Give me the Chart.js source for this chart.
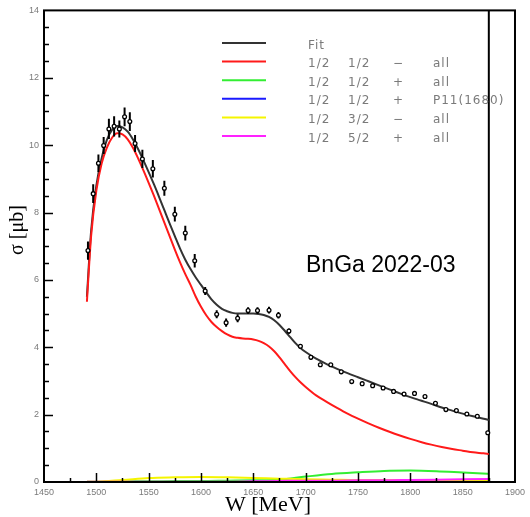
<!DOCTYPE html>
<html>
<head>
<meta charset="utf-8">
<script src="https://cdn.jsdelivr.net/npm/chart.js@4.4.1/dist/chart.umd.min.js"></script>
<style>
html,body{margin:0;padding:0;background:#fff}
#wrap{width:530px;height:517px}
</style>
</head>
<body>
<div id="wrap"><canvas id="chart" width="530" height="517"></canvas></div>
<script>

// curves (fit and 1/2- wave) sampled along W
const curveW=[1491,1495,1500,1505,1510,1515,1520,1525,1530,1535,1540,1545,1550,1555,1560,1565,1570,1575,1580,1585,1590,1595,1600,1605,1610,1615,1620,1625,1630,1635,1640,1645,1650,1655,1660,1665,1670,1675,1680,1685,1690,1695,1700,1710,1720,1730,1740,1750,1760,1770,1780,1790,1800,1810,1820,1830,1840,1850,1860,1870,1875]
const fitY=[5.5,7.45,8.8,9.6,10.15,10.45,10.57,10.53,10.4,10.17,9.88,9.55,9.2,8.84,8.46,8.07,7.68,7.3,6.93,6.6,6.32,6.07,5.85,5.63,5.42,5.26,5.14,5.07,5.02,5.0,5.0,5.0,5.0,4.99,4.96,4.9,4.8,4.66,4.49,4.31,4.13,3.98,3.86,3.66,3.5,3.36,3.23,3.11,2.99,2.87,2.75,2.63,2.52,2.42,2.32,2.21,2.12,2.03,1.95,1.88,1.84]
const redY=[5.35,7.3,8.65,9.45,9.92,10.22,10.35,10.32,10.17,9.92,9.6,9.25,8.88,8.5,8.1,7.7,7.3,6.9,6.52,6.17,5.85,5.5,5.2,4.95,4.75,4.6,4.48,4.38,4.31,4.28,4.26,4.25,4.23,4.19,4.12,4.02,3.88,3.7,3.5,3.3,3.12,2.96,2.82,2.57,2.38,2.2,2.03,1.88,1.74,1.61,1.49,1.38,1.28,1.19,1.11,1.04,0.98,0.93,0.88,0.85,0.83]

// small partial waves
const partW=[1491,1500,1525,1550,1575,1600,1625,1650,1675,1700,1725,1750,1775,1800,1825,1850,1875]
const greenY=[0.01,0.01,0.02,0.02,0.03,0.03,0.04,0.05,0.07,0.16,0.24,0.29,0.33,0.34,0.32,0.28,0.24]
const blueY=[0.0,0.0,0.0,0.0,0.0,0.0,0.0,0.005,0.01,0.01,0.01,0.01,0.01,0.01,0.01,0.01,0.01]
const yellowY=[0.01,0.01,0.06,0.12,0.14,0.15,0.14,0.12,0.1,0.08,0.07,0.06,0.06,0.06,0.06,0.06,0.06]
const magentaY=[0.01,0.01,0.01,0.01,0.01,0.01,0.01,0.02,0.03,0.04,0.04,0.05,0.05,0.06,0.07,0.08,0.09]

// measured points
const dataW=[1492,1497,1502,1507,1512,1517,1522,1527,1532,1537,1544,1554,1565,1575,1585,1594,1604,1615,1624,1635,1645,1654,1665,1674,1684,1695,1705,1714,1724,1734,1744,1754,1764,1774,1784,1794,1804,1814,1824,1834,1844,1854,1864,1874]
const dataY=[6.87,8.56,9.46,9.99,10.48,10.56,10.48,10.84,10.7,10.05,9.59,9.3,8.72,7.95,7.39,6.57,5.67,4.98,4.73,4.86,5.09,5.09,5.1,4.95,4.48,4.03,3.7,3.48,3.48,3.27,2.98,2.92,2.86,2.79,2.69,2.61,2.63,2.54,2.34,2.15,2.12,2.02,1.95,1.46]
const dataErr=[0.27,0.28,0.26,0.25,0.3,0.3,0.25,0.28,0.28,0.25,0.27,0.26,0.22,0.22,0.22,0.2,0.12,0.12,0.12,0.12,0.1,0.1,0.1,0.1,0.08,0.07,0.06,0.05,0.05,0.05,0.05,0.05,0.05,0.05,0.05,0.05,0.05,0.05,0.05,0.05,0.05,0.05,0.05,0.05]

const cutW=1875

const legendRows=[
["Fit","","",""],
["1/2","1/2","\u2212","all"],
["1/2","1/2","+","all"],
["1/2","1/2","+","P11(1680)"],
["1/2","3/2","\u2212","all"],
["1/2","5/2","+","all"]
]
const colors=["#333333","#ff1a1a","#33ee33","#1a1aff","#f5f500","#ff22ff"]

const pts=(xs,ys)=>xs.map((v,i)=>({x:v,y:ys[i]}))

const errPts=[]
dataW.forEach((w,i)=>{
errPts.push({x:w,y:dataY[i]-dataErr[i]},{x:w,y:dataY[i]+dataErr[i]},{x:w,y:null})
})

const curve=(data,color,order)=>({
data:data,borderColor:color,borderWidth:2,pointRadius:0,fill:false,
cubicInterpolationMode:"monotone",order:order
})

const decor={
id:"decor",
afterDraw(chart){
const {ctx,chartArea:a,scales:{x,y}}=chart
const line=(x1,y1,x2,y2)=>{ctx.beginPath();ctx.moveTo(x1,y1);ctx.lineTo(x2,y2);ctx.stroke()}
ctx.save()
ctx.strokeStyle="#000"
ctx.lineWidth=2
ctx.strokeRect(a.left,a.top,a.right-a.left,a.bottom-a.top)

ctx.lineWidth=1.5
for(let v=1475;v<1900;v+=25){
const px=Math.round(x.getPixelForValue(v))+0.5
line(px,a.bottom,px,a.bottom-(v%50===0?9:4))
}
for(let v=0.5;v<14;v+=0.5){
const py=Math.round(y.getPixelForValue(v))+0.5
line(a.left,py,a.left+(v%2===0?9:5),py)
}

// legend
legendRows.forEach((row,i)=>{
const ly=43+i*18.6
ctx.strokeStyle=colors[i]
ctx.lineWidth=2
line(222,ly,266,ly)
ctx.fillStyle="#7a7a7a"
ctx.font="12px 'DejaVu Sans'"
ctx.letterSpacing="1px"
ctx.textBaseline="middle"
ctx.textAlign="left"
const cols=[308,348,393,433]
row.forEach((t,j)=>{if(t)ctx.fillText(t,cols[j],ly+2.5)})
})
ctx.letterSpacing="0px"

ctx.fillStyle="#000"
ctx.font="23px 'Liberation Sans'"
ctx.textBaseline="middle"
ctx.fillText("BnGa 2022-03",306,266)

ctx.font="22px 'Liberation Serif'"
ctx.textAlign="center"
ctx.fillText("W [MeV]",268,505)

ctx.translate(18,230)
ctx.rotate(-Math.PI/2)
ctx.font="20px 'Liberation Serif'"
ctx.fillText("\u03c3 [\u03bcb]",0,0)
ctx.restore()
}
}

new Chart(document.getElementById("chart"),{
type:"line",
data:{datasets:[
{data:pts(dataW,dataY),showLine:false,pointRadius:1.9,pointBorderWidth:1.3,pointBorderColor:"#000",pointBackgroundColor:"#fff",order:0},
{data:errPts,borderColor:"#000",borderWidth:2,pointRadius:0,spanGaps:false,order:1},
curve(pts(curveW,redY),colors[1],2),
curve(pts(curveW,fitY),colors[0],3),
{data:[{x:cutW,y:0},{x:cutW,y:14}],borderColor:"#000",borderWidth:2,pointRadius:0,order:4},
curve(pts(partW,yellowY),colors[4],6),
curve(pts(partW,magentaY),colors[5],5),
curve(pts(partW,blueY),colors[3],7),
curve(pts(partW,greenY),colors[2],8)
]},
options:{
responsive:false,
animation:false,
devicePixelRatio:1,
layout:{padding:{top:8,right:13,left:0,bottom:0}},
plugins:{legend:{display:false},tooltip:{enabled:false}},
scales:{
x:{type:"linear",min:1450,max:1900,
ticks:{stepSize:50,autoSkip:false,maxRotation:0,padding:5,color:"#7a7a7a",font:{size:9,family:"'Liberation Sans'"},callback:v=>String(v)},
grid:{display:false,drawTicks:false},border:{display:false},
afterFit(s){s.height=35}},
y:{min:0,max:14,
ticks:{stepSize:2,padding:5,color:"#7a7a7a",font:{size:9,family:"'Liberation Sans'"}},
grid:{display:false,drawTicks:false},border:{display:false},
afterFit(s){s.width=44}}
}
},
plugins:[decor]
})

</script>
</body>
</html>
